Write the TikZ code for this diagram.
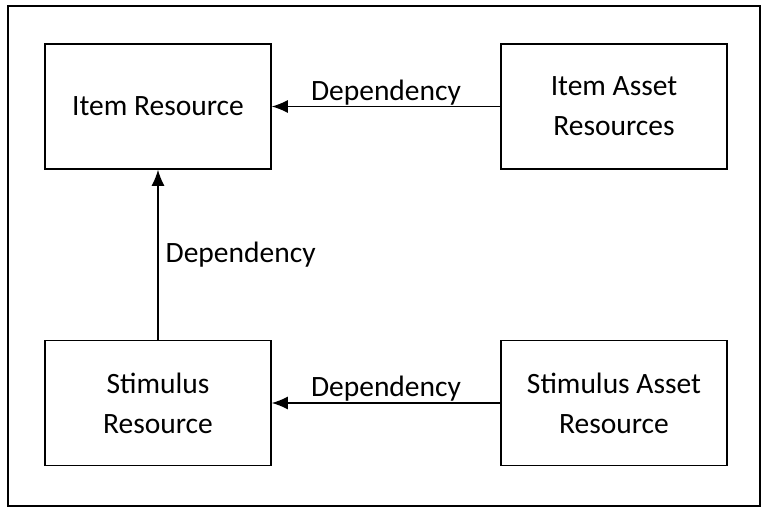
\documentclass[tikz,border=0pt]{standalone}
\usepackage{fontspec}
\setmainfont{Carlito}
\usetikzlibrary{arrows.meta,positioning}
\tikzset{resource/.style = {draw=black, line width=1.6pt, minimum width=226pt, minimum height=125pt, align=center, font=\fontsize{29.5}{40}\selectfont, inner sep=0pt}}
\tikzset{dep/.style={line width=1.3pt,-{Latex[length=16pt,width=13pt]}}}

\begin{document}
\begin{tikzpicture}[x=1pt,y=-1pt]
	\tikzstyle{deplabel}=[font=\fontsize{29.5}{34}\selectfont, inner sep=1pt]
	\useasboundingbox (0,0) rectangle (766,508);
	\draw[line width=1.6pt] (8,6) rectangle (760,506);
	\node[resource] (item) at (158,106.5) {Item Resource};
	\node[resource] (itemasset) at (614,106.5) {Item Asset\\Resources};
	\node[resource] (stim) at (158,403) {Stimulus\\Resource};
	\node[resource] (stimasset) at (614,403) {Stimulus Asset\\Resource};
	\draw[dep] (itemasset) -- node[deplabel,above] {Dependency} (item);
	\draw[dep] (stim) -- node[deplabel,right=6pt] {Dependency} (item);
	\draw[dep] (stimasset) -- node[deplabel,above] {Dependency} (stim);
\end{tikzpicture}
\end{document}
